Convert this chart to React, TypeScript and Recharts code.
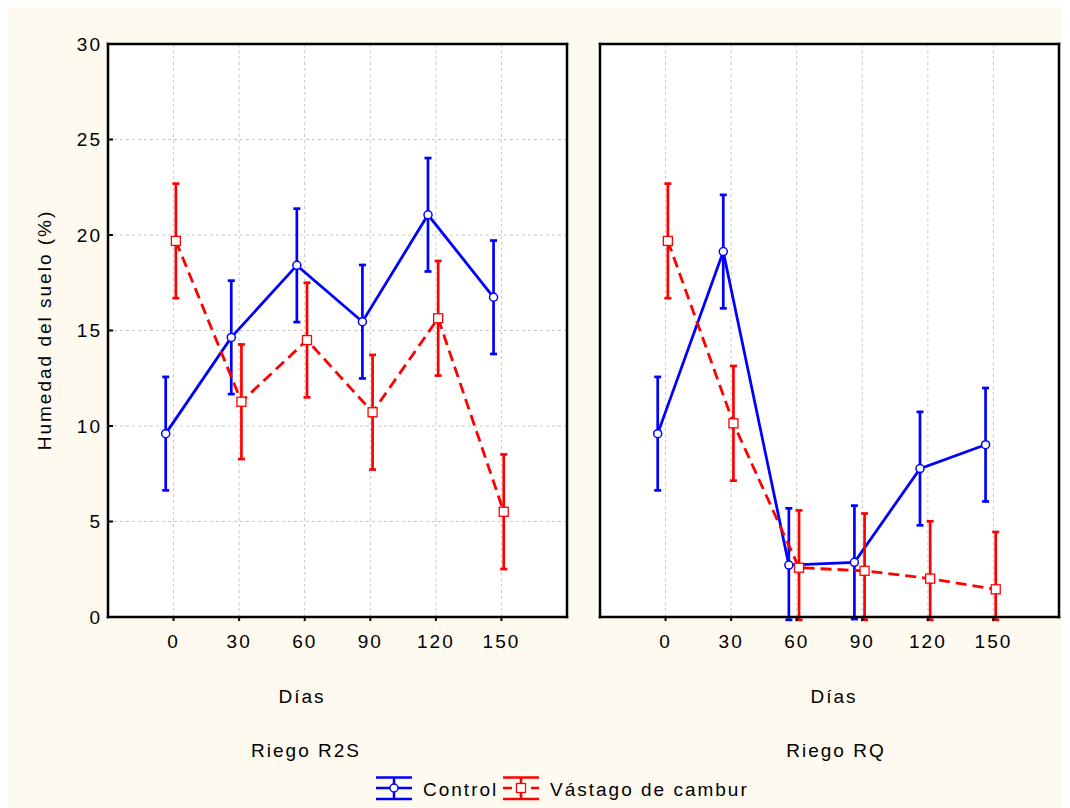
import React from "react";
import { LineChart, Line, XAxis, YAxis, CartesianGrid, ErrorBar } from "recharts";

const days = ["0", "30", "60", "90", "120", "150"];
const dayPositions = [1, 2, 3, 4, 5, 6];
const yTicks = [0, 5, 10, 15, 20, 25, 30];
// Statistica puts 7 unlabeled divisions on the right-hand axis
const rightTicks = [4.29, 8.57, 12.86, 17.14, 21.43, 25.71];

// Riego R2S
const r2sControl = [9.6, 14.64, 18.41, 15.46, 21.06, 16.74];
const r2sControlErr = [2.97, 2.97, 2.97, 2.97, 2.97, 2.97];
const r2sVastago = [19.69, 11.27, 14.5, 10.72, 15.64, 5.51];
const r2sVastagoErr = [3.0, 3.0, 3.0, 3.0, 3.0, 3.0];

// Riego RQ
const rqControl = [9.6, 19.13, 2.72, 2.86, 7.77, 9.02];
const rqControlErr = [2.97, 2.97, 2.97, 2.97, 2.97, 2.97];
const rqVastago = [19.69, 10.14, 2.58, 2.42, 2.01, 1.45];
const rqVastagoErr = [3.0, 3.0, 3.0, 3.0, 3.0, 3.0];

const BLUE = "#0000ff";
const RED = "#ff0000";
const CREAM = "#fefaf0";
const FONT = '"Liberation Sans", Arial, sans-serif';

// small horizontal dodge so the two series don't overlap
const CONTROL_SHIFT = -0.12;
const VASTAGO_SHIFT = 0.035;
// whiskers are cut just under the x axis, like the original plot
const AXIS_FLOOR = -0.15;

function toRows(values: number[], errs: number[], shift: number) {
  return values.map((v, i) => ({
    x: dayPositions[i] + shift,
    y: v,
    err: [Math.min(errs[i], v - AXIS_FLOOR), errs[i]],
  }));
}

const frame = { stroke: "#000", strokeWidth: 2.5, strokeLinecap: "square" as const };
const tickLine = { stroke: "#000", strokeWidth: 2 };
const tickFont = { fontSize: 19, fill: "#000", letterSpacing: 2 };

const squareDot = (props: any) => (
  <rect
    key={`sq-${props.index}`}
    x={props.cx - 4.5}
    y={props.cy - 4.5}
    width={9}
    height={9}
    fill="#fff"
    stroke={RED}
    strokeWidth={1.3}
  />
);

interface PanelProps {
  control: number[];
  controlErr: number[];
  vastago: number[];
  vastagoErr: number[];
  first: boolean;
  width: number;
  margin: { top: number; right: number; bottom: number; left: number };
}

function Panel({ control, controlErr, vastago, vastagoErr, first, width, margin }: PanelProps) {
  const controlRows = toRows(control, controlErr, CONTROL_SHIFT);
  const vastagoRows = toRows(vastago, vastagoErr, VASTAGO_SHIFT);
  return (
    <LineChart width={width} height={660} margin={margin}>
      <CartesianGrid fill="#ffffff" stroke="#c8c8c8" strokeDasharray="3 3" />
      <XAxis
        dataKey="x"
        type="number"
        domain={[0, 7]}
        allowDataOverflow
        ticks={dayPositions}
        interval={0}
        tickFormatter={(v) => days[dayPositions.indexOf(v)]}
        height={40}
        tickSize={4}
        tickMargin={14}
        axisLine={frame}
        tickLine={tickLine}
        tick={tickFont}
      />
      <XAxis
        xAxisId="top"
        orientation="top"
        dataKey="x"
        type="number"
        domain={[0, 7]}
        allowDataOverflow
        ticks={dayPositions}
        interval={0}
        height={1}
        tickSize={-5}
        tick={false}
        axisLine={frame}
        tickLine={tickLine}
      />
      <YAxis
        domain={[0, 30]}
        allowDataOverflow
        ticks={yTicks}
        interval={0}
        width={first ? 60 : 1}
        tickSize={-5}
        tickMargin={11}
        tick={first ? tickFont : false}
        axisLine={frame}
        tickLine={tickLine}
      />
      <YAxis
        yAxisId="right"
        orientation="right"
        domain={[0, 30]}
        allowDataOverflow
        ticks={rightTicks}
        interval={0}
        width={1}
        tickSize={-5}
        tick={false}
        axisLine={frame}
        tickLine={tickLine}
      />
      <Line
        data={controlRows}
        dataKey="y"
        type="linear"
        stroke={BLUE}
        strokeWidth={2.8}
        dot={{ r: 4, fill: "#fff", stroke: BLUE, strokeWidth: 1.5 }}
        activeDot={false}
        isAnimationActive={false}
      >
        <ErrorBar dataKey="err" direction="y" width={3.5} stroke={BLUE} strokeWidth={2.7} isAnimationActive={false} />
      </Line>
      <Line
        data={vastagoRows}
        dataKey="y"
        type="linear"
        stroke={RED}
        strokeWidth={2.8}
        strokeDasharray="11 6"
        dot={squareDot}
        activeDot={false}
        isAnimationActive={false}
      >
        <ErrorBar dataKey="err" direction="y" width={3.5} stroke={RED} strokeWidth={2.7} isAnimationActive={false} />
      </Line>
    </LineChart>
  );
}

function LegendIcon({ color, square }: { color: string; square: boolean }) {
  return (
    <svg width={38} height={27} style={{ display: "block" }}>
      <line x1={1} x2={37} y1={2.5} y2={2.5} stroke={color} strokeWidth={2.5} />
      <line x1={1} x2={37} y1={24} y2={24} stroke={color} strokeWidth={2.5} />
      <line x1={19} x2={19} y1={2.5} y2={24} stroke={color} strokeWidth={2.5} />
      <line x1={1} x2={37} y1={13} y2={13} stroke={color} strokeWidth={2.5} strokeDasharray={square ? "9 5" : undefined} />
      {square ? (
        <rect x={14.5} y={8.5} width={9} height={9} fill="#fff" stroke={color} strokeWidth={1.3} />
      ) : (
        <circle cx={19} cy={13} r={4} fill="#fff" stroke={color} strokeWidth={1.5} />
      )}
    </svg>
  );
}

const textStyle: React.CSSProperties = {
  position: "absolute",
  fontSize: 19,
  letterSpacing: 2,
  lineHeight: 1,
  whiteSpace: "nowrap",
  color: "#000",
  transform: "translate(-50%, -50%)",
};

export default function App() {
  return (
    <div style={{ position: "relative", width: 1062, height: 800, background: CREAM, fontFamily: FONT, overflow: "hidden" }}>
      <style>{"body{overflow:hidden}"}</style>
      <div style={{ position: "absolute", left: 0, top: 0 }}>
        <Panel
          control={r2sControl}
          controlErr={r2sControlErr}
          vastago={r2sVastago}
          vastagoErr={r2sVastagoErr}
          first
          width={580}
          margin={{ top: 35, right: 20, bottom: 11, left: 40 }}
        />
      </div>
      <div style={{ position: "absolute", left: 560, top: 0 }}>
        <Panel
          control={rqControl}
          controlErr={rqControlErr}
          vastago={rqVastago}
          vastagoErr={rqVastagoErr}
          first={false}
          width={502}
          margin={{ top: 35, right: 10, bottom: 11, left: 31 }}
        />
      </div>

      <div style={{ ...textStyle, left: 36, top: 322, transform: "translate(-50%, -50%) rotate(-90deg)" }}>
        Humedad del suelo (%)
      </div>
      <div style={{ ...textStyle, left: 294, top: 688 }}>Días</div>
      <div style={{ ...textStyle, left: 298, top: 742 }}>Riego R2S</div>
      <div style={{ ...textStyle, left: 826, top: 688 }}>Días</div>
      <div style={{ ...textStyle, left: 828, top: 742 }}>Riego RQ</div>

      <div style={{ position: "absolute", left: 367, top: 767 }}>
        <LegendIcon color={BLUE} square={false} />
      </div>
      <div style={{ ...textStyle, transform: "translate(0, -50%)", left: 415, top: 781 }}>Control</div>
      <div style={{ position: "absolute", left: 494, top: 767 }}>
        <LegendIcon color={RED} square />
      </div>
      <div style={{ ...textStyle, transform: "translate(0, -50%)", left: 542, top: 781 }}>Vástago de cambur</div>
    </div>
  );
}
